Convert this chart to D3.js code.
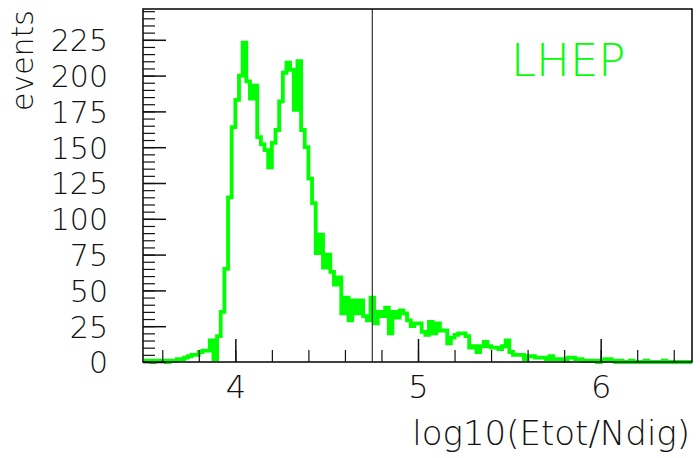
<!DOCTYPE html>
<html>
<head>
<meta charset="utf-8">
<script src="https://cdn.jsdelivr.net/npm/d3@7"></script>
<style>
	body { margin: 0; background: #fff; }
	svg { display: block; font-family: 'DejaVu Sans', sans-serif; }
</style>
</head>
<body>
<svg width="700" height="458"></svg>
<script>
// histogram: 150 bins over [3.5, 6.5]
const binLow = 3.5
const binHigh = 6.5
const counts = [
	1, 1, 0, 1, 1, 1, 0, 1, 1, 2,
	2, 3, 4, 5, 5, 7, 8, 8, 15, 2,
	18, 35, 65, 115, 164, 183, 200, 223, 196, 184,
	193, 157, 152, 148, 136, 153, 162, 182, 202, 209,
	204, 176, 210, 162, 150, 128, 111, 76, 89, 66,
	75, 63, 54, 59, 34, 45, 29, 43, 34, 43,
	32, 29, 45, 27, 35, 32, 38, 20, 35, 31,
	36, 34, 29, 25, 27, 27, 21, 19, 28, 20,
	27, 22, 22, 13, 17, 19, 20, 20, 18, 10,
	11, 7, 11, 14, 11, 10, 10, 9, 11, 15,
	7, 5, 5, 5, 2, 4, 4, 3, 3, 3,
	2, 4, 2, 2, 2, 1, 3, 3, 2, 2,
	1, 1, 1, 1, 0, 1, 2, 2, 1, 0,
	1, 0, 0, 1, 0, 0, 0, 1, 0, 0,
	0, 0, 1, 0, 0, 0, 0, 0, 0, 0
]
const cutValue = 4.75
const xMajorTicks = [4, 5, 6]
const yMajorTicks = [0, 25, 50, 75, 100, 125, 150, 175, 200, 225]
const yMax = 246.5

const svg = d3.select('svg')
const plotL = 144, plotR = 692, plotT = 9, plotB = 362

const x = d3.scaleLinear().domain([binLow, binHigh]).range([plotL, plotR])
const y = d3.scaleLinear().domain([0, yMax]).range([plotB, plotT])

const binWidth = (binHigh - binLow) / counts.length
const pts = counts.map((c, i) => [binLow + i * binWidth, c])
pts.push([binHigh, counts[counts.length - 1]])

// histogram outline
const line = d3.line()
	.x(d => x(d[0]))
	.y(d => y(d[1]))
	.curve(d3.curveStepAfter)

svg.append('path')
	.datum(pts)
	.attr('fill', 'none')
	.attr('stroke', '#00ff00')
	.attr('stroke-width', 3.8)
	.attr('d', line)

// cut line
svg.append('line')
	.attr('x1', x(cutValue)).attr('x2', x(cutValue))
	.attr('y1', plotT).attr('y2', plotB)
	.attr('stroke', '#444')
	.attr('stroke-width', 1.3)

// frame
svg.append('rect')
	.attr('x', plotL - 1).attr('y', plotT)
	.attr('width', plotR - plotL + 1).attr('height', plotB - plotT)
	.attr('fill', 'none')
	.attr('stroke', '#000')
	.attr('stroke-width', 1.5)

const styleTicks = (g, w) => {
	g.select('.domain').remove()
	g.selectAll('line').attr('stroke', '#111').attr('stroke-width', w)
}

// y ticks (inward)
svg.append('g')
	.attr('transform', `translate(${plotL - 1},0)`)
	.call(d3.axisRight(y).tickValues(d3.range(0, yMax, 5)).tickSize(12).tickFormat(''))
	.call(g => styleTicks(g, 1.2))
svg.append('g')
	.attr('transform', `translate(${plotL - 1},0)`)
	.call(d3.axisRight(y).tickValues(yMajorTicks).tickSize(23).tickFormat(''))
	.call(g => styleTicks(g, 1.5))
svg.append('g')
	.attr('transform', `translate(${plotL - 1},0)`)
	.call(d3.axisLeft(y).tickValues(yMajorTicks).tickSize(0).tickPadding(35))
	.call(g => {
		g.select('.domain').remove()
		g.selectAll('text')
			.attr('font-family', 'DejaVu Sans')
			.attr('font-weight', 200)
			.attr('font-size', 30)
			.attr('fill', '#111')
			.attr('dy', '0.36em')
	})

// x ticks (inward)
svg.append('g')
	.attr('transform', `translate(0,${plotB})`)
	.call(d3.axisTop(x).tickValues(d3.range(3.6, binHigh, 0.2)).tickSize(12).tickFormat(''))
	.call(g => styleTicks(g, 1.2))
svg.append('g')
	.attr('transform', `translate(0,${plotB})`)
	.call(d3.axisTop(x).tickValues(xMajorTicks).tickSize(23).tickFormat(''))
	.call(g => styleTicks(g, 1.5))
svg.append('g')
	.attr('transform', `translate(0,${plotB})`)
	.call(d3.axisBottom(x).tickValues(xMajorTicks).tickSize(0).tickPadding(13).tickFormat(d3.format('d')))
	.call(g => {
		g.select('.domain').remove()
		g.selectAll('text')
			.attr('font-family', 'DejaVu Sans')
			.attr('font-weight', 200)
			.attr('font-size', 32)
			.attr('fill', '#111')
	})

// axis titles
svg.append('text')
	.attr('x', plotR - 2)
	.attr('y', 445)
	.attr('text-anchor', 'end')
	.attr('font-weight', 200)
	.attr('font-size', 34)
	.attr('fill', '#111')
	.text('log10(Etot/Ndig)')

svg.append('text')
	.attr('transform', 'translate(33,10) rotate(-90)')
	.attr('text-anchor', 'end')
	.attr('font-weight', 200)
	.attr('font-size', 30)
	.attr('fill', '#111')
	.text('events')

// label
svg.append('text')
	.attr('x', 511)
	.attr('y', 76)
	.attr('font-weight', 200)
	.attr('font-size', 45)
	.attr('fill', '#00ff00')
	.text('LHEP')
</script>
</body>
</html>
